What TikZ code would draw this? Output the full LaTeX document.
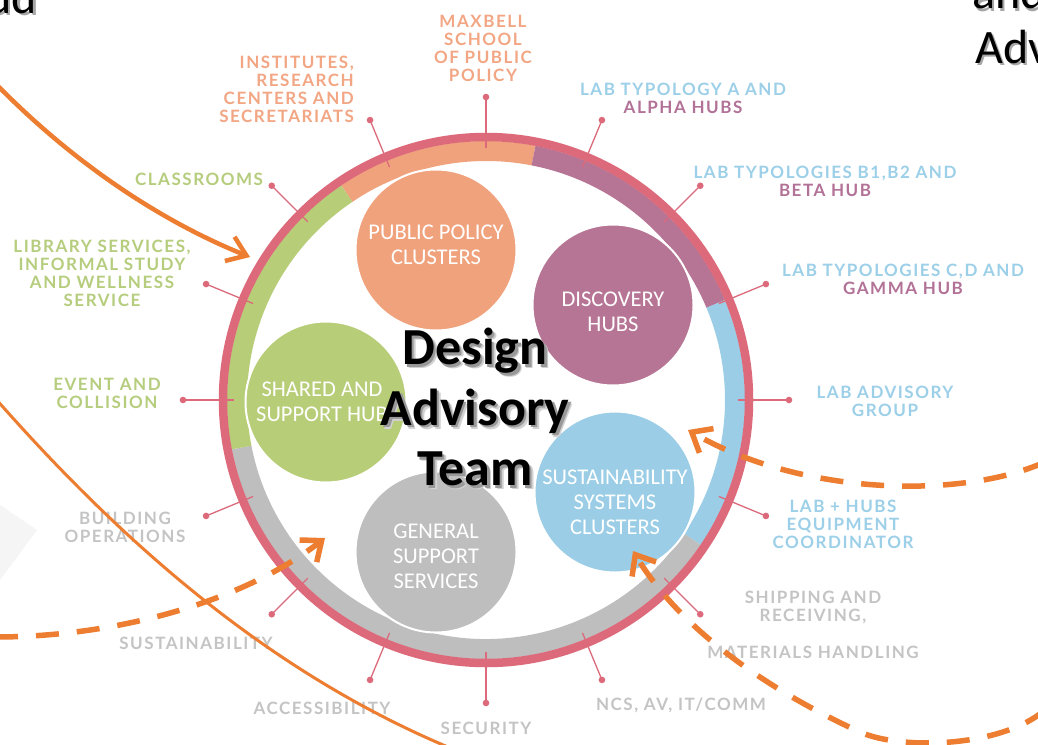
\documentclass[tikz,border=0pt]{standalone}
\usepackage{fontspec}
\setmainfont{Carlito}
\newfontfamily\labfont[LetterSpace=9]{Lato}
\newfontfamily\bubfont{Carlito}
\usetikzlibrary{arrows.meta}
\definecolor{ringpink}{HTML}{DC6A7A}
\definecolor{cOrange}{HTML}{F0A27D}
\definecolor{cPurple}{HTML}{B77595}
\definecolor{cGreen}{HTML}{B8CD78}
\definecolor{cBlue}{HTML}{9BCEE6}
\definecolor{cGrey}{HTML}{BEBEBE}
\definecolor{tOrange}{HTML}{F2A684}
\definecolor{tBlue}{HTML}{9CCFE8}
\definecolor{tPurple}{HTML}{B27196}
\definecolor{tGreen}{HTML}{B6CD7E}
\definecolor{tGrey}{HTML}{C4C4C4}
\definecolor{arrowOrange}{HTML}{ED7D31}
\definecolor{faint}{HTML}{F5F5F5}
\tikzset{
  lab/.style={font=\labfont\bfseries\fontsize{17}{18}\selectfont, align=center, inner sep=0pt},
  bub/.style={circle, minimum size=161pt, inner sep=0pt, draw=white, line width=2pt},
  bubtext/.style={font=\bubfont\fontsize{22.5}{25}\selectfont, text=white, align=center, inner sep=0pt},
  ticka/.style={draw=ringpink, line width=1.3pt},
  seg/.style={line width=20pt},
  bigtext/.style={font=\fontsize{52}{60.5}\selectfont\bfseries, align=center, inner sep=0pt},
  cornertext/.style={font=\fontsize{48}{58}\selectfont, inner sep=0pt},
  solidarrow/.style={draw=arrowOrange, line width=4.5pt, -{Straight Barb[length=18pt,width=26pt]}},
  dasharrow/.style={draw=arrowOrange, line width=5.5pt, dash pattern=on 23pt off 18pt, -{Straight Barb[length=17pt,width=28pt]}},
}
\begin{document}
\begin{tikzpicture}[x=1pt,y=-1pt]
\useasboundingbox (0,0) rectangle (1038,744);
\clip (0,0) rectangle (1038,744);
\fill[white] (0,0) rectangle (1038,744);
% faint shape at left
\fill[faint] (0,505) -- (37,530) -- (0,580) -- cycle;

% partial texts at corners
\node[cornertext, text=black!35, anchor=base east] at (39.5,15.5) {ud};
\node[cornertext, anchor=base east] (ud) at (37,13) {ud};
\node[cornertext, text=black!35, anchor=base west] at (974.5,11.5) {and};
\node[cornertext, anchor=base west] (and) at (972,9) {and};
\node[cornertext, text=black!35, anchor=base west] at (977.5,65.5) {Adv};
\node[cornertext, anchor=base west] (adv) at (975,63) {Adv};

% ring
\begin{scope}[shift={(486,400)}, y=1pt]
  \draw[seg, cOrange] (79:249) arc[start angle=79, end angle=124, radius=249];
  \draw[seg, cPurple] (22.7:249) arc[start angle=22.7, end angle=79, radius=249];
  \draw[seg, cBlue] (-34:249) arc[start angle=-34, end angle=22.7, radius=249];
  \draw[seg, cGrey] (191:249) arc[start angle=191, end angle=326, radius=249];
  \draw[seg, cGreen] (124:249) arc[start angle=124, end angle=191, radius=249];
  \draw[ringpink, line width=8.5pt] (0,0) circle[radius=263];
  \foreach \a in {0,22.5,...,337.5}{
    \draw[ticka] (\a:252) -- (\a:303);
    \fill[ringpink] (\a:303) circle[radius=3.3];
  }
\end{scope}

% bubbles
\node[bub, fill=cOrange] (pp) at (436,250) {};
\node[bub, fill=cPurple] (dh) at (613,305) {};
\node[bub, fill=cGreen] (ss) at (326,402) {};
\node[bub, fill=cGrey] (gs) at (436,552) {};
\node[bub, fill=cBlue] (su) at (615,492) {};
\node[bubtext] (ppt) at (436,245) {PUBLIC POLICY\\CLUSTERS};
\node[bubtext] (dht) at (613,312) {DISCOVERY\\HUBS};
\node[bubtext] (sst) at (322,402) {SHARED AND\\SUPPORT HUB};
\node[bubtext] (gst) at (436,556) {GENERAL\\SUPPORT\\SERVICES};
\node[bubtext] (sut) at (615,502) {SUSTAINABILITY\\SYSTEMS\\CLUSTERS};

% outer labels
\node[lab, text=tOrange, align=right, anchor=east] (inst) at (354,89) {INSTITUTES,\\RESEARCH\\CENTERS AND\\SECRETARIATS};
\node[lab, text=tOrange] (maxb) at (483,48) {MAXBELL\\SCHOOL\\OF PUBLIC\\POLICY};
\node[lab, text=tBlue] (laba) at (683,98) {LAB TYPOLOGY A AND\\\textcolor{tPurple}{ALPHA HUBS}};
\node[lab, text=tBlue] (labb) at (825,181) {LAB TYPOLOGIES B1,B2 AND\\\textcolor{tPurple}{BETA HUB}};
\node[lab, text=tBlue] (labc) at (903,279) {LAB TYPOLOGIES C,D AND\\\textcolor{tPurple}{GAMMA HUB}};
\node[lab, text=tBlue] (laba2) at (885,401) {LAB ADVISORY\\GROUP};
\node[lab, text=tBlue] (labh) at (843,524) {LAB + HUBS\\EQUIPMENT\\COORDINATOR};
\node[lab, text=tGrey] (ship) at (813,607) {SHIPPING AND\\RECEIVING,};
\node[lab, text=tGrey] (mat) at (813,652) {MATERIALS HANDLING};
\node[lab, text=tGrey] (ncs) at (681,705) {NCS, AV, IT/COMM};
\node[lab, text=tGrey] (sec) at (486,728) {SECURITY};
\node[lab, text=tGrey] (acc) at (322,708) {ACCESSIBILITY};
\node[lab, text=tGrey] (sus) at (196,643) {SUSTAINABILITY};
\node[lab, text=tGrey] (bld) at (125,527) {BUILDING\\OPERATIONS};
\node[lab, text=tGreen] (evt) at (107,393) {EVENT AND\\COLLISION};
\node[lab, text=tGreen] (lib) at (102,273) {LIBRARY SERVICES,\\INFORMAL STUDY\\AND WELLNESS\\SERVICE};
\node[lab, text=tGreen] (cls) at (199,179) {CLASSROOMS};

% orange connectors
\coordinate (a1s) at (-5,83);
\coordinate (a1e) at (250,257);
\draw[solidarrow] (a1s) .. controls (80,170) and (170,225) .. (a1e);
\coordinate (a2s) at (-5,398);
\coordinate (a2e) at (460,752);
\draw[draw=arrowOrange, line width=3pt] (a2s) .. controls (120,540) and (270,675) .. (a2e);
\coordinate (a3s) at (-5,637);
\coordinate (a3e) at (325,538);
\draw[dasharrow] (a3s) .. controls (120,637) and (245,600) .. (a3e);
\coordinate (a4s) at (1045,462);
\coordinate (a4e) at (688,430);
\draw[dasharrow] (a4s) .. controls (960,500) and (800,495) .. (a4e);
\coordinate (a5s) at (1045,710);
\coordinate (a5m) at (860,732);
\coordinate (a5e) at (633,551);
\draw[dasharrow] (a5s) .. controls (1000,748) and (900,750) .. (a5m) .. controls (800,705) and (690,645) .. (a5e);

% centre title with soft shadow
\node[bigtext, text=black!18] at (479,411) {Design\\Advisory\\Team};
\node[bigtext, text=black!40] at (477.5,409.5) {Design\\Advisory\\Team};
\node[bigtext, text=black] (title) at (475,407) {Design\\Advisory\\Team};
\end{tikzpicture}
\end{document}
